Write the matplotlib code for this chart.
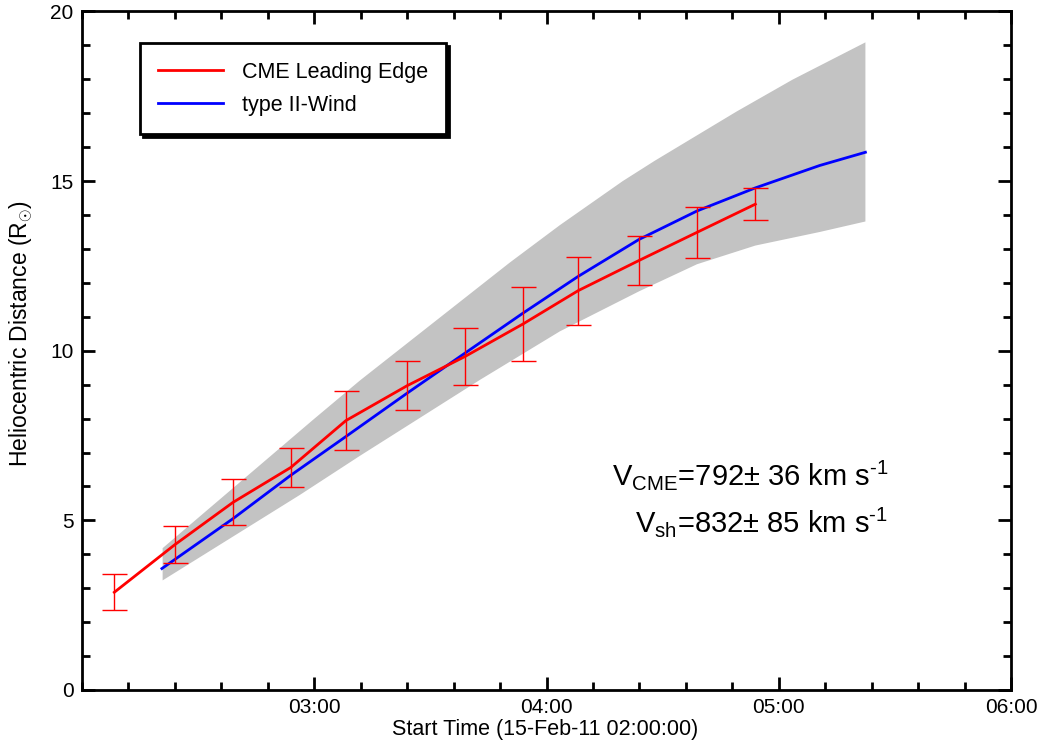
import numpy as np
import matplotlib
matplotlib.use("Agg")
import matplotlib.pyplot as plt
from matplotlib.ticker import MultipleLocator

plt.rcParams['font.family'] = ['Liberation Sans', 'DejaVu Sans']
plt.rcParams['mathtext.fontset'] = 'custom'
plt.rcParams['mathtext.rm'] = 'Liberation Sans'
plt.rcParams['mathtext.it'] = 'Liberation Sans'

# CME leading edge (time in hours of 15-Feb-11, distance in R_sun)
cme_time = [2.139, 2.399, 2.650, 2.899, 3.136, 3.400, 3.649, 3.899, 4.136, 4.398, 4.648, 4.899]
cme_dist = [2.88, 4.28, 5.53, 6.56, 7.94, 8.97, 9.83, 10.79, 11.77, 12.66, 13.49, 14.32]
cme_err = [0.53, 0.54, 0.68, 0.57, 0.87, 0.73, 0.83, 1.10, 1.00, 0.72, 0.76, 0.48]

# type II - wind model
wind_time = [2.344, 2.650, 2.899, 3.136, 3.400, 3.649, 3.899, 4.136, 4.398, 4.648, 4.899, 5.176, 5.373]
wind_dist = [3.58, 5.05, 6.33, 7.47, 8.75, 9.93, 11.11, 12.19, 13.28, 14.12, 14.80, 15.46, 15.85]

# uncertainty band
band_up_time = [2.347, 2.994, 3.196, 3.842, 4.057, 4.328, 4.466, 4.818, 5.059, 5.373]
band_up_dist = [4.18, 7.96, 9.12, 12.60, 13.70, 15.00, 15.60, 17.05, 17.99, 19.09]
band_lo_time = [2.347, 2.938, 3.196, 3.713, 4.057, 4.398, 4.648, 4.899, 5.176, 5.373]
band_lo_dist = [3.23, 5.75, 6.90, 9.14, 10.57, 11.75, 12.55, 13.10, 13.50, 13.81]

x_ticks = [3, 4, 5, 6]
x_labels = ['03:00', '04:00', '05:00', '06:00']
y_ticks = [0, 5, 10, 15, 20]

fig = plt.figure(figsize=(10.45, 7.46), dpi=100)
ax = fig.add_axes([0.0785, 0.0751, 0.889, 0.9095])

poly_x = np.concatenate([band_up_time, band_lo_time[::-1]])
poly_y = np.concatenate([band_up_dist, band_lo_dist[::-1]])
ax.fill(poly_x, poly_y, color='#c3c3c3', lw=0, zorder=1)

ax.plot(wind_time, wind_dist, color='#0000ff', lw=2.0, zorder=3, label='type II-Wind')
ax.plot(cme_time, cme_dist, color='#ff0000', lw=2.0, zorder=4, label='CME Leading Edge')
ax.errorbar(cme_time, cme_dist, yerr=cme_err, fmt='none', ecolor='#ff0000',
            elinewidth=1.0, capsize=9, capthick=1.0, zorder=5)

ax.set_xlim(2, 6)
ax.set_ylim(0, 20)
ax.set_xticks(x_ticks, labels=x_labels)
ax.xaxis.set_minor_locator(MultipleLocator(0.2))
ax.set_yticks(y_ticks, labels=[str(v) for v in y_ticks])
ax.yaxis.set_minor_locator(MultipleLocator(1))

ax.tick_params(which='both', direction='in', top=True, right=True, width=2, labelsize=15, pad=6)
ax.tick_params(which='major', length=9.5)
ax.tick_params(which='minor', length=5.5)
for s in ax.spines.values():
    s.set_linewidth(2)

ax.set_xlabel('Start Time (15-Feb-11 02:00:00)', fontsize=15.5)
ax.xaxis.set_label_coords(0.4985, -0.0425)
ax.set_ylabel(r'Heliocentric Distance (R$_{\odot}$)', fontsize=16.5)
ax.yaxis.set_label_coords(-0.0505, 0.525)

h, l = ax.get_legend_handles_labels()
leg = ax.legend([h[1], h[0]], [l[1], l[0]], loc='upper left', bbox_to_anchor=(0.0624, 0.953),
                borderaxespad=0, fontsize=15.5, handlelength=3.0, handletextpad=0.88,
                borderpad=0.85, labelspacing=0.55, fancybox=False, frameon=True,
                shadow={'color': 'black', 'alpha': 1.0})
leg.get_frame().set_edgecolor('black')
leg.get_frame().set_linewidth(2)

ax.text(0.868, 0.302, r'V$_{\rm CME}$=792$\pm$ 36 km s$^{\text{-1}}$', transform=ax.transAxes,
        ha='right', va='baseline', fontsize=21)
ax.text(0.868, 0.232, r'V$_{\rm sh}$=832$\pm$ 85 km s$^{\text{-1}}$', transform=ax.transAxes,
        ha='right', va='baseline', fontsize=21)

fig.canvas.draw()
fig.savefig('out.png', dpi=100)
